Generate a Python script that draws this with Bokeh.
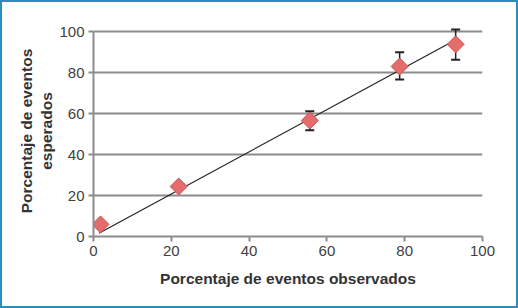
from bokeh.plotting import figure
from bokeh.models import Whisker, ColumnDataSource, TeeHead, FixedTicker, Range1d
from bokeh.embed import file_html
from bokeh.resources import INLINE
import math

# data
obs = [1.8, 21.9, 55.6, 78.7, 93.1]
exp = [5.9, 24.4, 56.6, 83.0, 93.8]
err_low = [5.9, 24.4, 51.9, 76.7, 86.3]
err_high = [5.9, 24.4, 61.1, 89.9, 101.0]
fit_x = [1.4, 93.5]
fit_y = [1.6, 96.4]
ticks = [0, 20, 40, 60, 80, 100]

src = ColumnDataSource(dict(x=obs, y=exp, lo=err_low, hi=err_high))

B = 2
p = figure(width=518, height=308, output_backend="svg", toolbar_location=None,
           x_range=Range1d(0, 100), y_range=Range1d(0, 103),
           min_border_left=91, min_border_right=38,
           min_border_top=23, min_border_bottom=74)
p.styles = {"border": f"{B}px solid #2a8cc0"}
p.outline_line_color = None
p.background_fill_color = "white"
p.border_fill_color = "white"

font = "Liberation Sans"
for ax in (p.xaxis[0], p.yaxis[0]):
    ax.ticker = FixedTicker(ticks=ticks)
    ax.bounds = (0, 100)
    ax.minor_tick_line_color = None
    ax.axis_line_color = "#8c8c8c"
    ax.axis_line_width = 2
    ax.major_tick_line_color = "#8c8c8c"
    ax.major_tick_line_width = 2
    ax.major_tick_out = 5
    ax.major_tick_in = 0
    ax.major_label_text_font = font
    ax.major_label_text_font_size = "15px"
    ax.major_label_text_color = "#404040"
    ax.axis_label_text_font = font
    ax.axis_label_text_font_size = "15.5px"
    ax.axis_label_text_font_style = "bold"
    ax.axis_label_text_color = "#333333"

p.xaxis.axis_label = "Porcentaje de eventos observados"
p.yaxis.axis_label = "Porcentaje de eventos\nesperados"
p.yaxis.major_label_standoff = 4
p.xaxis.major_label_standoff = 4
p.yaxis.axis_label_standoff = 1
p.xaxis.axis_label_standoff = 11

p.xgrid.grid_line_color = None
p.ygrid.ticker = FixedTicker(ticks=ticks[1:])
p.ygrid.grid_line_color = "#8c8c8c"
p.ygrid.grid_line_width = 2

p.line(fit_x, fit_y, line_color="#222222", line_width=1.2)

w = Whisker(source=src, base="x", lower="lo", upper="hi", dimension="height",
            line_color="#222222", line_width=1.5,
            upper_head=TeeHead(size=9, line_color="#222222", line_width=2),
            lower_head=TeeHead(size=9, line_color="#222222", line_width=2))
p.add_layout(w)

p.scatter("x", "y", source=src, marker="square", size=12, angle=math.pi / 4,
          fill_color="#e46c6c", line_color="#c9524f", line_width=1)

open("out.html", "w").write(file_html(p, INLINE))
